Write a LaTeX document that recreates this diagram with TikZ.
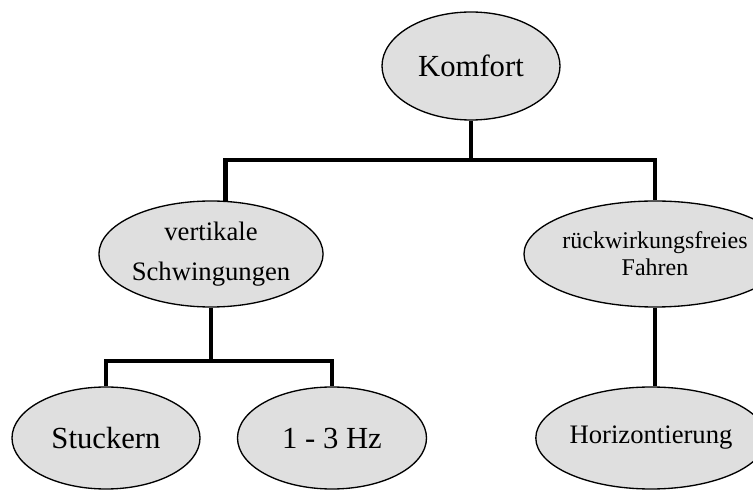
\documentclass[tikz,border=0pt]{standalone}
\usepackage{fontspec}
\setmainfont{Liberation Serif}
\usetikzlibrary{shapes.geometric}

\tikzset{
  bubble/.style={ellipse, draw=black, line width=1pt, fill=gray!25,
                 inner sep=0pt, align=center},
  branch/.style={line width=3.7pt}
}

\begin{document}
\begin{tikzpicture}[x=0.75pt,y=0.75pt]
     % Frame: the picture is cut at the right edge
     \clip (0,0) rectangle (753,489);

     % Top level:
     \node [bubble, minimum width=133.5pt, minimum height=81pt,
            font=\fontsize{23}{28}\selectfont] (komfort) at (471,423) {Komfort};

     % Second level:
     \node [bubble, minimum width=141pt, minimum height=79.5pt,
            font=\fontsize{20}{30}\selectfont] (vertikal) at (211,235) {vertikale\\Schwingungen};
     \node [bubble, minimum width=147pt, minimum height=79.5pt,
            font=\fontsize{18}{20}\selectfont] (rueck) at (655,235) {rückwirkungsfreies\\Fahren};

     % Third level:
     \node [bubble, minimum width=141pt, minimum height=76.5pt,
            font=\fontsize{23}{28}\selectfont] (stuckern) at (106,51) {Stuckern};
     \node [bubble, minimum width=141.75pt, minimum height=76.5pt,
            font=\fontsize{23}{28}\selectfont] (hz) at (332,51) {1 - 3 Hz};
     \node [bubble, minimum width=139.5pt, minimum height=76.5pt,
            font=\fontsize{20}{24}\selectfont] (horiz) at (651,51) {Horizontierung};

     % Height of the two bars:
     \coordinate (bar1) at (0,329);
     \coordinate (bar2) at (0,128);

     % Branches:
     \draw [branch] (komfort.south) -- (komfort.south |- bar1) -| (vertikal.75);
     \draw [branch] (komfort.south |- bar1) -| (rueck.north);
     \draw [branch] (vertikal.south) -- (vertikal.south |- bar2) -| (stuckern.north);
     \draw [branch] (vertikal.south |- bar2) -| (hz.north);
     \draw [branch] (rueck.south) -- (rueck.south |- horiz.north);
\end{tikzpicture}
\end{document}
